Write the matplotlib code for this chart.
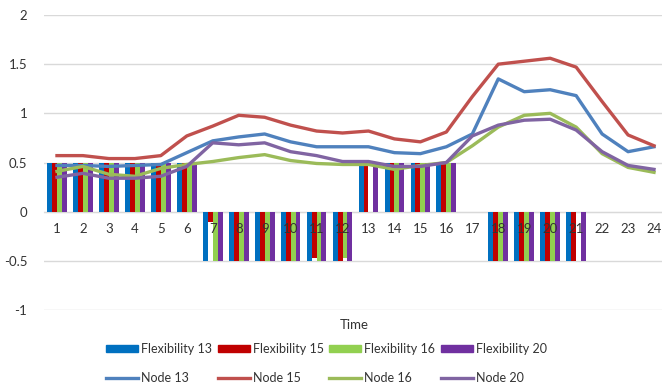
import numpy as np
from matplotlib import pyplot as plt
import matplotlib.patches as mpatches
from matplotlib.lines import Line2D

plt.rcParams['font.family'] = ['Lato', 'DejaVu Sans']
plt.rcParams['axes.unicode_minus'] = False

hours = np.arange(1, 25)

# flexibility activation per node (bars)
flex13 = [0.5, 0.5, 0.5, 0.5, 0.5, 0.5, -0.5, -0.5, -0.5, -0.5, -0.5, -0.5,
          0.5, 0.5, 0.5, 0.5, 0, -0.5, -0.5, -0.5, -0.5, 0, 0, 0]
flex15 = [0.5, 0.5, 0.5, 0.5, 0.5, 0.5, -0.1, -0.5, -0.5, -0.5, -0.47, -0.5,
          0.5, 0.5, 0.5, 0.5, 0, -0.5, -0.5, -0.5, -0.5, 0, 0, 0]
flex16 = [0.5, 0.5, 0.5, 0.5, 0.5, 0.5, -0.5, -0.5, -0.5, -0.5, -0.5, -0.47,
          0, 0.5, 0.5, 0.5, 0, -0.5, -0.5, -0.5, 0, 0, 0, 0]
flex20 = [0.5, 0.5, 0.5, 0.5, 0.5, 0.5, -0.5, -0.5, -0.5, -0.5, -0.5, -0.5,
          0.5, 0.5, 0.5, 0.5, 0, -0.5, -0.5, -0.5, -0.5, 0, 0, 0]

# node profiles (lines)
node13 = [0.47, 0.47, 0.46, 0.47, 0.48, 0.60, 0.72, 0.76, 0.79, 0.71, 0.66, 0.66,
          0.66, 0.60, 0.59, 0.66, 0.79, 1.35, 1.22, 1.24, 1.18, 0.79, 0.61, 0.66]
node15 = [0.57, 0.57, 0.54, 0.54, 0.57, 0.77, 0.87, 0.98, 0.96, 0.88, 0.82, 0.80,
          0.82, 0.74, 0.71, 0.81, 1.17, 1.50, 1.53, 1.56, 1.47, 1.12, 0.78, 0.67]
node16 = [0.41, 0.46, 0.38, 0.36, 0.44, 0.48, 0.51, 0.55, 0.58, 0.52, 0.49, 0.48,
          0.48, 0.43, 0.47, 0.50, 0.67, 0.86, 0.98, 1.00, 0.86, 0.59, 0.45, 0.40]
node20 = [0.35, 0.39, 0.34, 0.34, 0.36, 0.46, 0.70, 0.68, 0.70, 0.61, 0.57, 0.51,
          0.51, 0.46, 0.46, 0.50, 0.77, 0.88, 0.93, 0.94, 0.83, 0.61, 0.47, 0.43]

bar_series = [flex13, flex15, flex16, flex20]
bar_names = ['Flexibility 13', 'Flexibility 15', 'Flexibility 16', 'Flexibility 20']
bar_colors = ['#0070C0', '#C00000', '#92D050', '#7030A0']

line_series = [node13, node15, node16, node20]
line_names = ['Node 13', 'Node 15', 'Node 16', 'Node 20']
line_colors = ['#4F81BD', '#C0504D', '#9BBB59', '#8064A2']

grid_c = '#D9D9D9'
txt = '#333333'

fig = plt.figure(figsize=(6.62, 3.88), dpi=100)
ax = fig.add_axes([44/662, 78/388, 623/662, 295/388])

w = 0.19
for i, (vals, c) in enumerate(zip(bar_series, bar_colors)):
    ax.bar(hours + (i - 1.5)*w, vals, w, color=c, zorder=1, linewidth=0)

for vals, c in zip(line_series, line_colors):
    ax.plot(hours, vals, color=c, lw=2.4, zorder=3, solid_joinstyle='round')

ax.set_xlim(0.5, 24.5)
ax.set_ylim(-1, 2)
ax.set_yticks(np.arange(-1, 2.01, 0.5))
ax.set_yticklabels(['-1', '-0.5', '0', '0.5', '1', '1.5', '2'])
ax.set_xticks(hours)
ax.set_xticklabels([str(h) for h in hours])
ax.yaxis.grid(True, color=grid_c, lw=1)
ax.yaxis.set_zorder(0.5)
ax.xaxis.set_zorder(2.5)  # hour labels sit on top of the bars

for s in ['top', 'right', 'left']:
    ax.spines[s].set_visible(False)
ax.spines['bottom'].set_position(('data', 0))
ax.spines['bottom'].set_color(grid_c)
ax.spines['bottom'].set_zorder(0.5)

ax.tick_params(axis='x', length=0, pad=8, labelsize=9.5, labelcolor=txt)
ax.tick_params(axis='y', length=0, pad=12, labelsize=9.5, labelcolor=txt)

fig.text(354/662, 1 - 325/388, 'Time', ha='center', va='center',
         fontsize=9.5, color=txt)

handles = []
labels = []
for bn, bc, ln, lc in zip(bar_names, bar_colors, line_names, line_colors):
    handles.append(mpatches.Patch(color=bc))
    labels.append(bn)
    handles.append(Line2D([0], [0], color=lc, lw=2.4))
    labels.append(ln)

fig.legend(handles, labels, ncol=4, loc='upper left',
           bbox_to_anchor=(106/662, 1 - 343/388), bbox_transform=fig.transFigure,
           frameon=False, borderpad=0, borderaxespad=0,
           handlelength=2.55, handleheight=0.56, handletextpad=0.25,
           columnspacing=0.45, labelspacing=1.35, fontsize=9,
           labelcolor=txt)

fig.savefig('out.png', dpi=100)
